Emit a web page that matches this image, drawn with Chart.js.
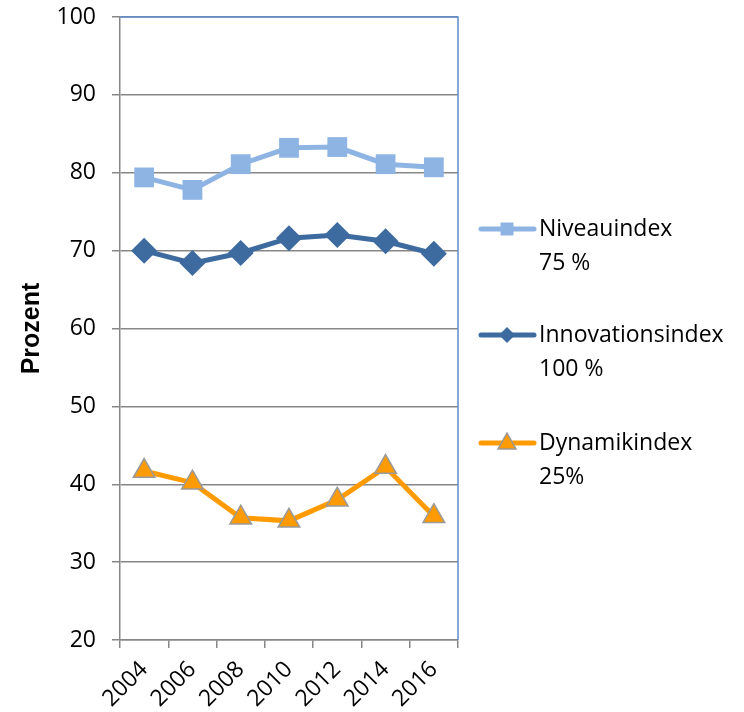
<!DOCTYPE html>
<html>
<head>
<meta charset="utf-8">
<script src="https://cdn.jsdelivr.net/npm/chart.js@4/dist/chart.umd.min.js"></script>
<style>
  html, body { margin: 0; padding: 0; background: #fff; }
  #wrap { width: 744px; height: 712px; }
</style>
</head>
<body>
<div id="wrap"><canvas id="chart" width="744" height="712"></canvas></div>
<script>
/* Daten */
const years = ["2004", "2006", "2008", "2010", "2012", "2014", "2016"];
const niveauindex = [79.4, 77.8, 81.1, 83.2, 83.3, 81.1, 80.7];
const innovationsindex = [70.0, 68.4, 69.7, 71.6, 72.0, 71.2, 69.6];
const dynamikindex = [41.7, 40.2, 35.7, 35.3, 38.0, 42.2, 35.9];
const yTicks = [20, 30, 40, 50, 60, 70, 80, 90, 100];

const seriesNames = ["Niveauindex", "Innovationsindex", "Dynamikindex"];
const seriesWeights = ["75 %", "100 %", "25%"];

const FONT = "'Open Sans', 'Liberation Sans', sans-serif";
const colNiveau = "#8EB4E3";
const colInno = "#3D6A9F";
const colDyn = "#FF9B00";
const gridGray = "#878787";

/* Rahmen oben/rechts + Legende rechts */
const extras = {
  id: "extras",
  afterDatasetsDraw(chart) {
    const ctx = chart.ctx;
    const a = chart.chartArea;
    ctx.save();
    ctx.strokeStyle = "#5E8DCB";
    ctx.lineWidth = 1.5;
    ctx.beginPath();
    ctx.moveTo(a.left, a.top);
    ctx.lineTo(a.right, a.top);
    ctx.lineTo(a.right, a.bottom);
    ctx.stroke();
    ctx.restore();
  },
  afterDraw(chart) {
    const ctx = chart.ctx;
    const items = [
      { color: colNiveau, style: "rect", y: 229 },
      { color: colInno, style: "diamond", y: 335 },
      { color: colDyn, style: "triangle", y: 443 }
    ];
    ctx.save();
    items.forEach((it, i) => {
      ctx.strokeStyle = it.color;
      ctx.lineWidth = 5;
      ctx.lineCap = "round";
      ctx.beginPath();
      ctx.moveTo(481, it.y);
      ctx.lineTo(534, it.y);
      ctx.stroke();

      const cx = 507, cy = it.y;
      ctx.fillStyle = it.color;
      ctx.beginPath();
      if (it.style === "rect") {
        ctx.rect(cx - 6.5, cy - 6.5, 13, 13);
        ctx.fill();
      } else if (it.style === "diamond") {
        ctx.moveTo(cx, cy - 8);
        ctx.lineTo(cx + 8, cy);
        ctx.lineTo(cx, cy + 8);
        ctx.lineTo(cx - 8, cy);
        ctx.closePath();
        ctx.fill();
      } else {
        ctx.moveTo(cx, cy - 10);
        ctx.lineTo(cx + 9, cy + 6);
        ctx.lineTo(cx - 9, cy + 6);
        ctx.closePath();
        ctx.fill();
        ctx.strokeStyle = "#9A9A9A";
        ctx.lineWidth = 1.5;
        ctx.lineJoin = "miter";
        ctx.stroke();
      }

      ctx.fillStyle = "#000";
      ctx.font = "23px " + FONT;
      ctx.textBaseline = "middle";
      ctx.textAlign = "left";
      ctx.fillText(seriesNames[i], 539, it.y);
      ctx.fillText(seriesWeights[i], 539, it.y + 34);
    });
    ctx.restore();
  }
};

new Chart(document.getElementById("chart"), {
  type: "line",
  data: {
    labels: years,
    datasets: [
      {
        label: seriesNames[0],
        data: niveauindex,
        borderColor: colNiveau,
        backgroundColor: colNiveau,
        borderWidth: 5,
        pointStyle: "rect",
        pointRadius: 14,
        pointBorderWidth: 0
      },
      {
        label: seriesNames[1],
        data: innovationsindex,
        borderColor: colInno,
        backgroundColor: colInno,
        borderWidth: 5,
        pointStyle: "rectRot",
        pointRadius: 13,
        pointBorderWidth: 0
      },
      {
        label: seriesNames[2],
        data: dynamikindex,
        borderColor: colDyn,
        backgroundColor: colDyn,
        borderWidth: 5,
        pointStyle: "triangle",
        pointRadius: 12.5,
        pointBorderColor: "#9A9A9A",
        pointBorderWidth: 1.5
      }
    ]
  },
  plugins: [extras],
  options: {
    responsive: false,
    animation: false,
    layout: { padding: { top: 17, right: 286, left: 0, bottom: 0 } },
    plugins: {
      legend: { display: false },
      tooltip: { enabled: false }
    },
    scales: {
      x: {
        offset: true,
        grid: {
          offset: true,
          drawOnChartArea: false,
          drawTicks: true,
          tickLength: 8,
          color: gridGray,
          lineWidth: 1.5
        },
        border: { color: gridGray, width: 1.5 },
        ticks: {
          color: "#000",
          font: { family: FONT, size: 23 },
          minRotation: 45,
          maxRotation: 45,
          padding: 8
        },
        afterFit(scale) {
          scale.height = 72;
          scale.paddingLeft = 0;
          scale.paddingRight = 0;
        }
      },
      y: {
        min: 20,
        max: 100,
        afterBuildTicks(scale) { scale.ticks = yTicks.map(v => ({ value: v })); },
        grid: {
          color: gridGray,
          lineWidth: 1.5,
          tickLength: 8
        },
        border: { color: gridGray, width: 1.5 },
        ticks: {
          color: "#000",
          font: { family: FONT, size: 23 },
          padding: 16
        },
        title: {
          display: true,
          text: "Prozent",
          color: "#000",
          font: { family: "'Liberation Sans', Arial, sans-serif", size: 25, weight: "bold" },
          padding: { top: 17, bottom: 0 }
        },
        afterFit(scale) {
          scale.width = 120;
          scale.paddingTop = 0;
          scale.paddingBottom = 0;
        }
      }
    }
  }
});
</script>
</body>
</html>
